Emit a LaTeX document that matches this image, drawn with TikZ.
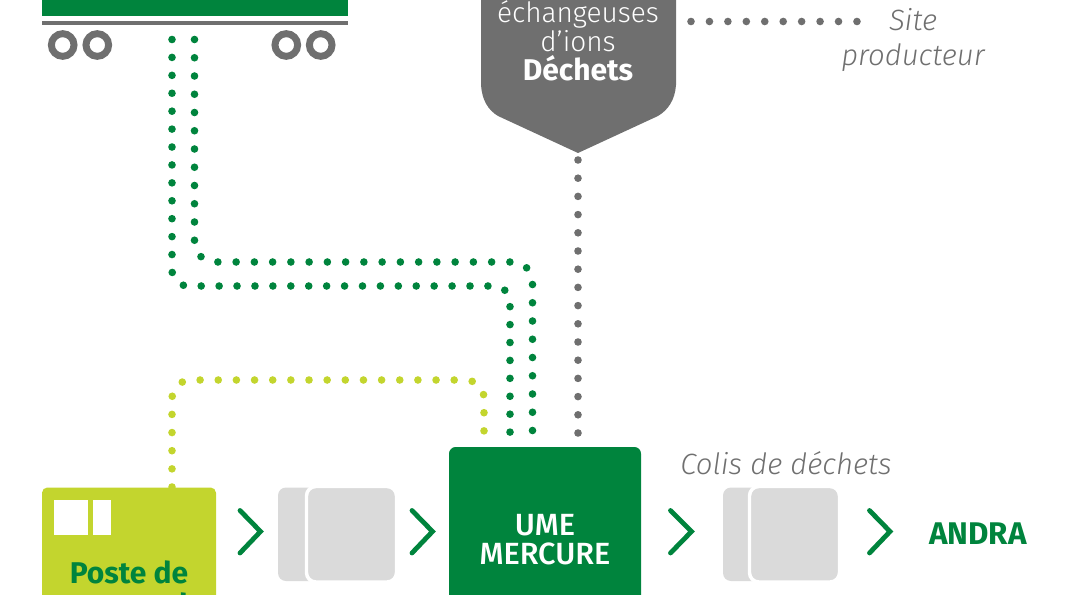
\documentclass[tikz,border=0pt]{standalone}
\usepackage{fontspec}
\setmainfont{Fira Sans}
\newfontfamily\lightf[ItalicFont={Fira Sans Light Italic}]{Fira Sans Light}
\newfontfamily\medf{Fira Sans Medium}
\definecolor{mgreen}{HTML}{00843D}
\definecolor{mlime}{HTML}{C3D52E}
\definecolor{mgrey}{HTML}{6F6F6F}
\definecolor{mlight}{HTML}{DADADA}
\newcommand{\fs}[1]{\fontsize{#1}{#1}\selectfont}
\tikzset{
  x=0.75pt,y=-0.75pt,
  dots/.style={line cap=round,line width=5.7pt,dash pattern=on 0pt off #1*0.75pt},
  txt/.style={anchor=base,inner sep=0pt,outer sep=0pt},
  chev/.style={draw=mgreen,line width=3.6pt,line cap=round,line join=miter,fill=none},
  wheel/.style={circle,draw=mgrey,line width=5.2pt,minimum size=17pt,inner sep=0pt,fill=white},
  pack/.style={fill=mlight,rounded corners=6pt},
  packfront/.style={fill=mlight,draw=white,line width=2.6pt,rounded corners=7pt},
}
\begin{document}
\begin{tikzpicture}
\useasboundingbox (0,0) rectangle (1066,595);
\clip (0,0) rectangle (1066,595);
% named connector ends
\coordinate (truckL) at (172,39.5);
\coordinate (truckR) at (194.5,39.5);
\coordinate (umeA) at (484,432.5);
\coordinate (umeB) at (510,433);
\coordinate (umeC) at (532.5,433);
\coordinate (umeD) at (578,433);
\coordinate (tip) at (578,160);
\coordinate (posteTop) at (172,487);
\coordinate (bendA) at (172,286);
\coordinate (bendB) at (510,286);
\coordinate (bendC) at (194.5,262);
\coordinate (bendD) at (532.5,262);
\coordinate (bendE) at (172,380);
\coordinate (bendF) at (484,380);
\coordinate (siteA) at (691,21.5);
\coordinate (siteB) at (858,21.5);
% truck
\fill[mgreen] (42,-10) rectangle (348,16.3);
\fill[mgrey] (42,20.8) rectangle (348,25.5);
\node[wheel] (w1) at (62.7,45) {};
\node[wheel] (w2) at (97.3,45) {};
\node[wheel] (w3) at (286.3,45) {};
\node[wheel] (w4) at (320.7,45) {};
% dotted connectors
\draw[mgreen,dots=17.92,rounded corners=12pt] (truckL) -- (bendA) -- (bendB) -- (umeB);
\draw[mgreen,dots=18.25,rounded corners=15pt] (truckR) -- (bendC) -- (bendD) -- (umeC);
\draw[mlime,dots=18.15,rounded corners=14pt] (posteTop) -- (bendE) -- (bendF) -- (umeA);
\draw[mgrey,dots=18.2] (tip) -- (umeD);
\draw[mgrey,dots=18.44] (siteA) -- (siteB);
% shield
\fill[mgrey] (481,-10) -- (481,85) .. controls (482,100) and (488,110) .. (498,116) -- (578,153) -- (658,116) .. controls (668,110) and (675,100) .. (676,85) -- (676,-10) -- cycle;
\node[txt,text=white] (ech) at (578,23) {\fs{21}\lightf échangeuses};
\node[txt,text=white] (ions) at (578,52) {\fs{21}\lightf d’ions};
\node[txt,text=white] (dech) at (578,80.5) {\fs{22.5}\bfseries Déchets};
\node[txt,text=mgrey] (site) at (913,30.5) {\fs{22}\lightf\itshape Site};
\node[txt,text=mgrey] (prod) at (913,65.5) {\fs{22}\lightf\itshape producteur};
% poste
\fill[mlime,rounded corners=4pt] (42,487.5) rectangle (216,640);
\fill[white] (53.5,500) rectangle (88,535);
\fill[white] (93,500) rectangle (111,535);
\node[txt,text=mgreen] (poste) at (129,583) {\fs{22.5}\bfseries Poste de};
\node[txt,text=mgreen] (comm) at (129,615) {\fs{22.5}\bfseries commande};
% chevrons
\draw[chev] (240,510.5) -- (260.5,531.5) -- (240,553);
\draw[chev] (412,510.5) -- (432.5,531.5) -- (412,553);
\draw[chev] (670.5,510.5) -- (691.5,531.5) -- (670.5,553);
\draw[chev] (869.5,510.5) -- (890,531.5) -- (869.5,553);
% packages
\fill[pack] (278,487.5) rectangle (330,581);
\draw[packfront] (306.5,486.5) rectangle (396.5,582);
\fill[pack] (723,487.5) rectangle (775,581);
\draw[packfront] (749.5,486.5) rectangle (839.5,582);
% UME
\fill[mgreen,rounded corners=5pt] (449,447) rectangle (641,640);
\node[txt,text=white] (ume) at (545,535) {\fs{23}\medf UME};
\node[txt,text=white] (merc) at (545,564) {\fs{23}\medf MERCURE};
\node[txt,text=mgrey] (colis) at (786,474) {\fs{22}\lightf\itshape Colis de déchets};
\node[txt,text=mgreen] (andra) at (978,544) {\fs{23.5}\bfseries ANDRA};
\end{tikzpicture}
\end{document}
